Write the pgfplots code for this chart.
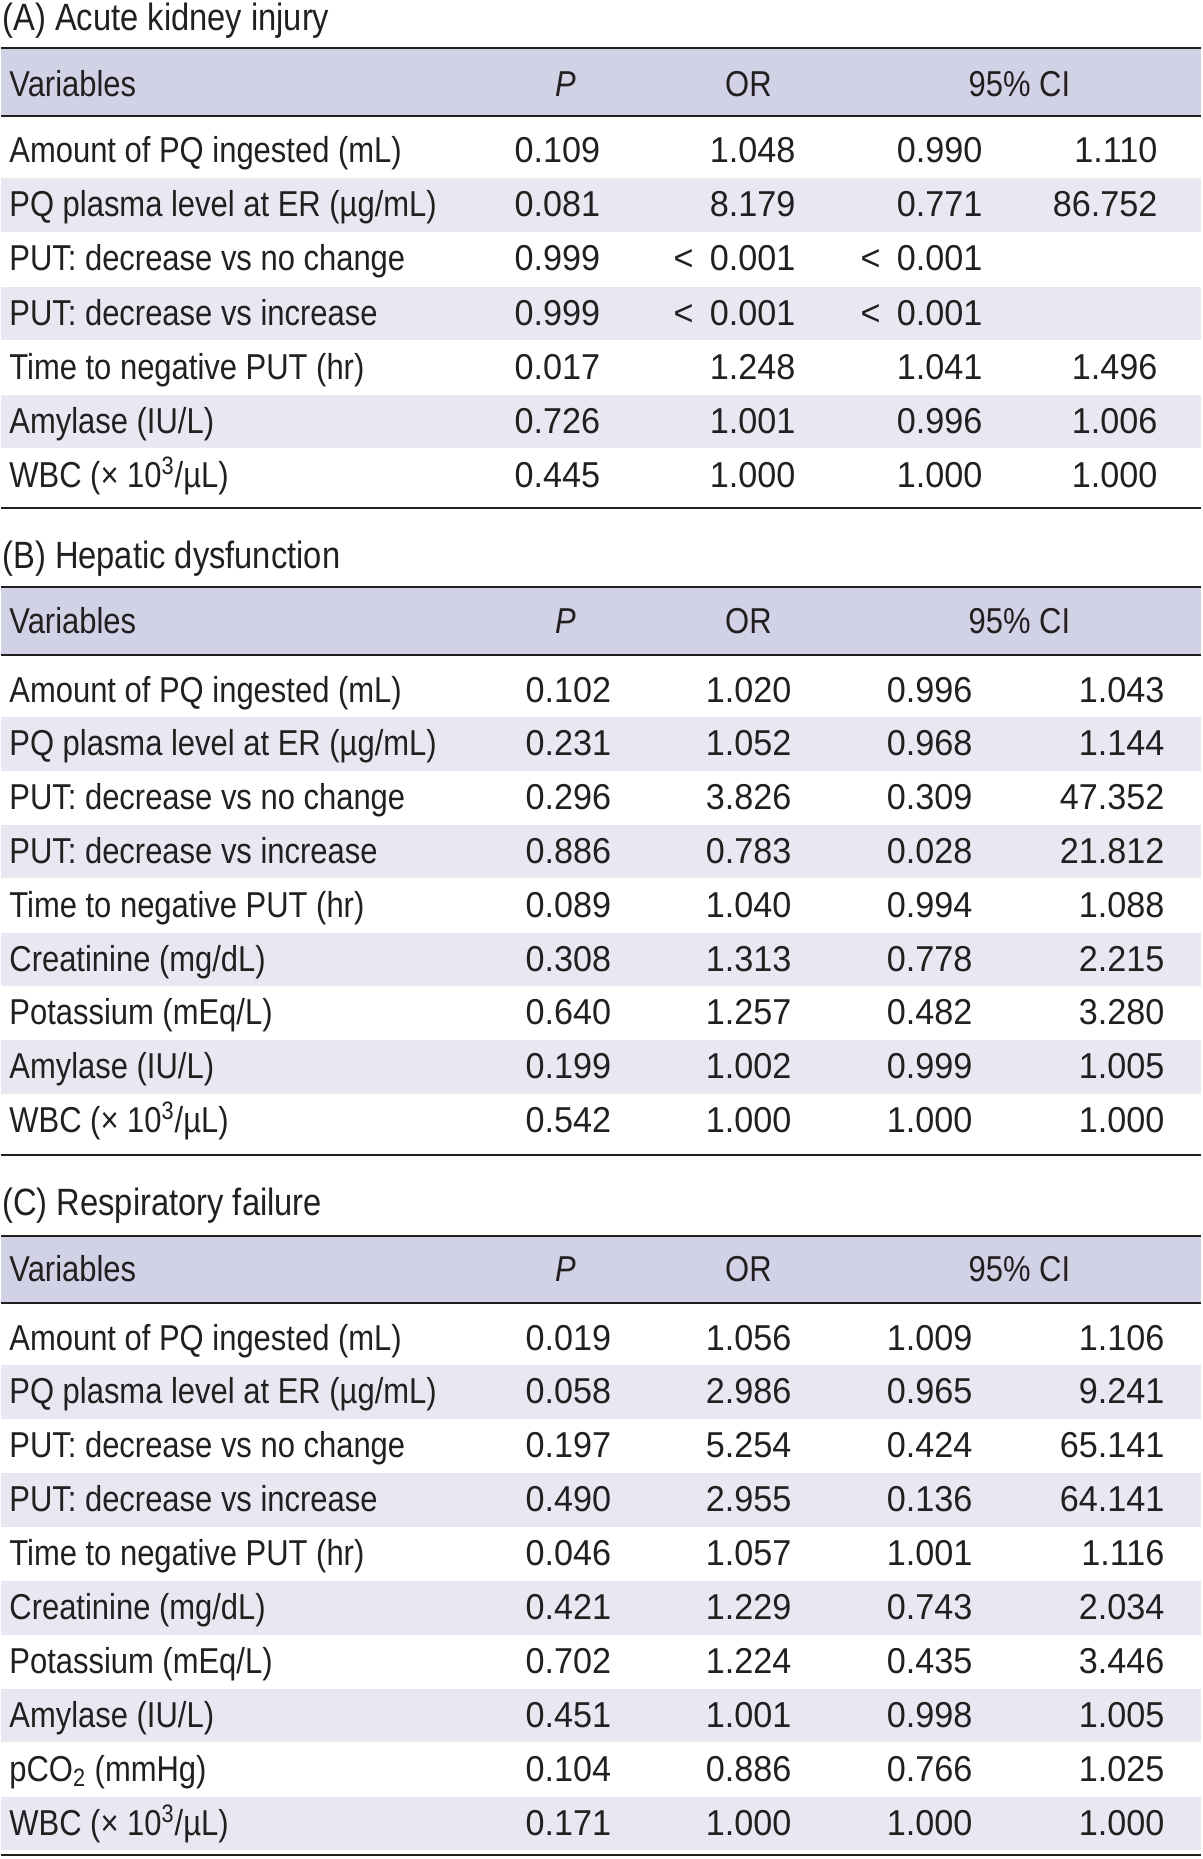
\documentclass[border=0pt]{standalone}
\usepackage{pgfplots}
\pgfplotsset{compat=1.18}
\usepackage{fontspec}
\setmainfont{Liberation Sans}[FakeStretch=0.86]
\newfontfamily\numfont{Liberation Sans}[FakeStretch=0.95]
\definecolor{hdr}{RGB}{210,210,230}
\definecolor{stripe}{RGB}{232,232,243}
\definecolor{rule}{RGB}{35,31,32}
\definecolor{txt}{RGB}{35,31,32}
\newcommand\fs{\fontsize{18}{20}\selectfont}
\tikzset{tx/.style={inner sep=0pt, outer sep=0pt, font=\fs, text=txt},
         nx/.style={inner sep=0pt, outer sep=0pt, font=\fs\numfont, text=txt}}
\newcommand\lt{<\hspace{0.45em}0.001}
% table A row: baseline, label, P, OR, lo, hi
\newcommand\rowA[6]{%
 \node[tx,anchor=base west] at (axis cs:8,#1) {#2};
 \node[nx,anchor=base] at (axis cs:556,#1) {#3};
 \node[nx,anchor=base east] at (axis cs:794,#1) {#4};
 \node[nx,anchor=base east] at (axis cs:981,#1) {#5};
 \node[nx,anchor=base east] at (axis cs:1156,#1) {#6};}
\newcommand\rowBC[6]{%
 \node[tx,anchor=base west] at (axis cs:8,#1) {#2};
 \node[nx,anchor=base] at (axis cs:567,#1) {#3};
 \node[nx,anchor=base east] at (axis cs:790,#1) {#4};
 \node[nx,anchor=base east] at (axis cs:971,#1) {#5};
 \node[nx,anchor=base east] at (axis cs:1163,#1) {#6};}
\newcommand\band[1]{\fill[stripe] (axis cs:0,{#1-38.5}) rectangle (axis cs:1200,{#1+15});}
\newcommand\head[4]{% rule top, rule bottom, baseline, P x
 \fill[hdr] (axis cs:0,#1) rectangle (axis cs:1200,#2);
 \draw[rule,line width=1.4pt] (axis cs:0,#1) -- (axis cs:1200,#1);
 \draw[rule,line width=1.4pt] (axis cs:0,#2) -- (axis cs:1200,#2);
 \node[tx,anchor=base west] at (axis cs:8,#3) {Variables};
 \node[tx,anchor=base] at (axis cs:#4,#3) {\itshape P};
 \node[tx,anchor=base] at (axis cs:747,#3) {OR};
 \node[tx,anchor=base] at (axis cs:1018,#3) {95\% CI};}
\newcommand\WBC{WBC (× 10\textsuperscript{3}/µL)}
\newcommand\ttl[2]{\node[tx,anchor=base west,font=\fontsize{19}{21}\selectfont] at (axis cs:1,#1) {#2};}
\begin{document}
\begin{tikzpicture}
\begin{axis}[scale only axis, width=600pt, height=929.5pt,
  xmin=0, xmax=1200, ymin=0, ymax=1859, y dir=reverse,
  hide axis, clip=false]
\addplot[draw=none, forget plot] coordinates {(0,0) (1200,1859)};
\path (axis cs:0,0) rectangle (axis cs:1200,1859);
% ---------------- (A)
\ttl{30}{(A) Acute kidney injury}
\head{48}{116}{96.7}{564}
\band{216.8}\band{325.0}\band{433.2}
\rowA{162.7}{Amount of PQ ingested (mL)}{0.109}{1.048}{0.990}{1.110}
\rowA{216.8}{PQ plasma level at ER (µg/mL)}{0.081}{8.179}{0.771}{86.752}
\rowA{270.9}{PUT: decrease vs no change}{0.999}{\lt}{\lt}{}
\rowA{325.0}{PUT: decrease vs increase}{0.999}{\lt}{\lt}{}
\rowA{379.1}{Time to negative PUT (hr)}{0.017}{1.248}{1.041}{1.496}
\rowA{433.2}{Amylase (IU/L)}{0.726}{1.001}{0.996}{1.006}
\rowA{487.3}{\WBC}{0.445}{1.000}{1.000}{1.000}
\draw[rule,line width=1.4pt] (axis cs:0,508) -- (axis cs:1200,508);
% ---------------- (B)
\ttl{568}{(B) Hepatic dysfunction}
\head{587}{655}{633}{564}
\band{755.8}\band{863.4}\band{971.0}\band{1078.6}
\rowBC{702.0}{Amount of PQ ingested (mL)}{0.102}{1.020}{0.996}{1.043}
\rowBC{755.8}{PQ plasma level at ER (µg/mL)}{0.231}{1.052}{0.968}{1.144}
\rowBC{809.6}{PUT: decrease vs no change}{0.296}{3.826}{0.309}{47.352}
\rowBC{863.4}{PUT: decrease vs increase}{0.886}{0.783}{0.028}{21.812}
\rowBC{917.2}{Time to negative PUT (hr)}{0.089}{1.040}{0.994}{1.088}
\rowBC{971.0}{Creatinine (mg/dL)}{0.308}{1.313}{0.778}{2.215}
\rowBC{1024.8}{Potassium (mEq/L)}{0.640}{1.257}{0.482}{3.280}
\rowBC{1078.6}{Amylase (IU/L)}{0.199}{1.002}{0.999}{1.005}
\rowBC{1132.4}{\WBC}{0.542}{1.000}{1.000}{1.000}
\draw[rule,line width=1.4pt] (axis cs:0,1155) -- (axis cs:1200,1155);
% ---------------- (C)
\ttl{1215}{(C) Respiratory failure}
\head{1236}{1303}{1281.7}{564}
\band{1403.9}\band{1511.7}\band{1619.5}\band{1727.3}\band{1835.1}
\rowBC{1350.0}{Amount of PQ ingested (mL)}{0.019}{1.056}{1.009}{1.106}
\rowBC{1403.9}{PQ plasma level at ER (µg/mL)}{0.058}{2.986}{0.965}{9.241}
\rowBC{1457.8}{PUT: decrease vs no change}{0.197}{5.254}{0.424}{65.141}
\rowBC{1511.7}{PUT: decrease vs increase}{0.490}{2.955}{0.136}{64.141}
\rowBC{1565.6}{Time to negative PUT (hr)}{0.046}{1.057}{1.001}{1.116}
\rowBC{1619.5}{Creatinine (mg/dL)}{0.421}{1.229}{0.743}{2.034}
\rowBC{1673.4}{Potassium (mEq/L)}{0.702}{1.224}{0.435}{3.446}
\rowBC{1727.3}{Amylase (IU/L)}{0.451}{1.001}{0.998}{1.005}
\rowBC{1781.2}{pCO\textsubscript{2} (mmHg)}{0.104}{0.886}{0.766}{1.025}
\rowBC{1835.1}{\WBC}{0.171}{1.000}{1.000}{1.000}
\draw[rule,line width=1.4pt] (axis cs:0,1855) -- (axis cs:1200,1855);
\end{axis}
\end{tikzpicture}
\end{document}
